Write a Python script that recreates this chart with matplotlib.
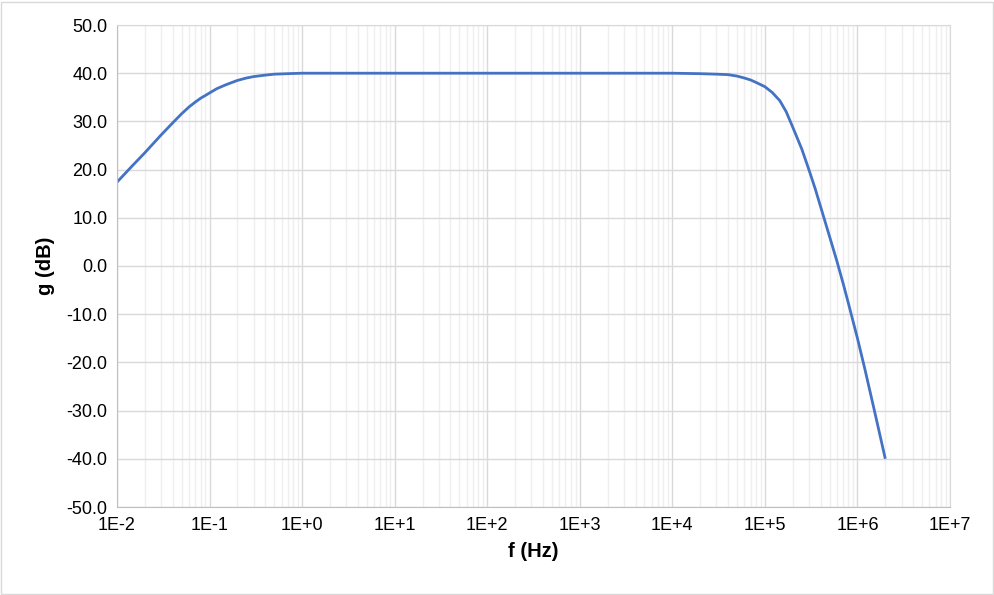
import matplotlib
matplotlib.use('Agg')
import matplotlib.pyplot as plt
from matplotlib.ticker import LogLocator, FuncFormatter, MultipleLocator
from matplotlib.patches import Rectangle
import numpy as np

# frequency response
freq = [0.01, 0.015, 0.02, 0.03, 0.04, 0.05, 0.06, 0.07, 0.08, 0.1, 0.12, 0.15,
        0.2, 0.25, 0.3, 0.4, 0.5, 0.7,
        1, 10, 100, 1e3, 1e4, 2e4, 3e4, 4e4, 5e4, 6e4, 7e4, 8e4, 1e5, 1.2e5,
        1.45e5, 1.7e5, 2e5, 2.5e5, 3e5, 3.5e5, 4e5, 5e5, 6e5, 7e5, 8e5, 1e6,
        1.2e6, 1.5e6, 2e6]
gain = [17.4, 21.0, 23.5, 27.2, 29.7, 31.6, 33.0, 34.0, 34.8, 35.9, 36.8, 37.6,
        38.5, 39.0, 39.3, 39.6, 39.8, 39.9,
        40.0, 40.0, 40.0, 40.0, 40.0, 39.9, 39.8, 39.7, 39.4, 39.0, 38.6, 38.1, 37.2, 36.0,
        34.3, 32.0, 28.8, 24.3, 19.9, 16.0, 12.3, 6.1, 1.0, -3.6, -7.8, -15.0,
        -21.3, -29.4, -40.0]

plt.rcParams['font.family'] = ['Liberation Sans', 'DejaVu Sans']

fig = plt.figure(figsize=(9.95, 5.95), dpi=100)
ax = fig.add_axes([117/995, 1 - 507/595, (950-117)/995, (507-25)/595])

ax.plot(freq, gain, color='#4472C4', linewidth=2.0, solid_capstyle='butt',
        solid_joinstyle='round')

ax.set_xscale('log')
ax.set_xlim(1e-2, 1e7)
ax.set_ylim(-50, 50)
ax.yaxis.set_major_locator(MultipleLocator(10))
ax.yaxis.set_major_formatter(FuncFormatter(lambda v, p: '%.1f' % v))
ax.xaxis.set_major_locator(LogLocator(base=10, numticks=20))
ax.xaxis.set_minor_locator(LogLocator(base=10, subs=np.arange(2, 10), numticks=200))
ax.xaxis.set_major_formatter(FuncFormatter(lambda v, p: '1E%+d' % int(round(np.log10(v)))))

ax.grid(True, which='major', color='#d9d9d9', linewidth=1.0)
ax.grid(True, which='minor', axis='x', color='#efefef', linewidth=1.0)
ax.set_axisbelow(True)
for s in ax.spines.values():
    s.set_color('#d9d9d9')
ax.spines['left'].set_color('#bfbfbf')
ax.spines['bottom'].set_color('#bfbfbf')
ax.tick_params(which='both', length=0, labelsize=13, colors='#000000', pad=7)

ax.set_xlabel('f (Hz)', fontsize=14.5, fontweight='bold', labelpad=6)
ax.set_ylabel('g (dB)', fontsize=14.5, fontweight='bold', labelpad=8)

# chart border
fig.patches.append(Rectangle((1/995, 1/595), 992/995, 592/595, transform=fig.transFigure,
                             fill=False, edgecolor='#d9d9d9', linewidth=1.0))

plt.savefig('out.png', dpi=100)
